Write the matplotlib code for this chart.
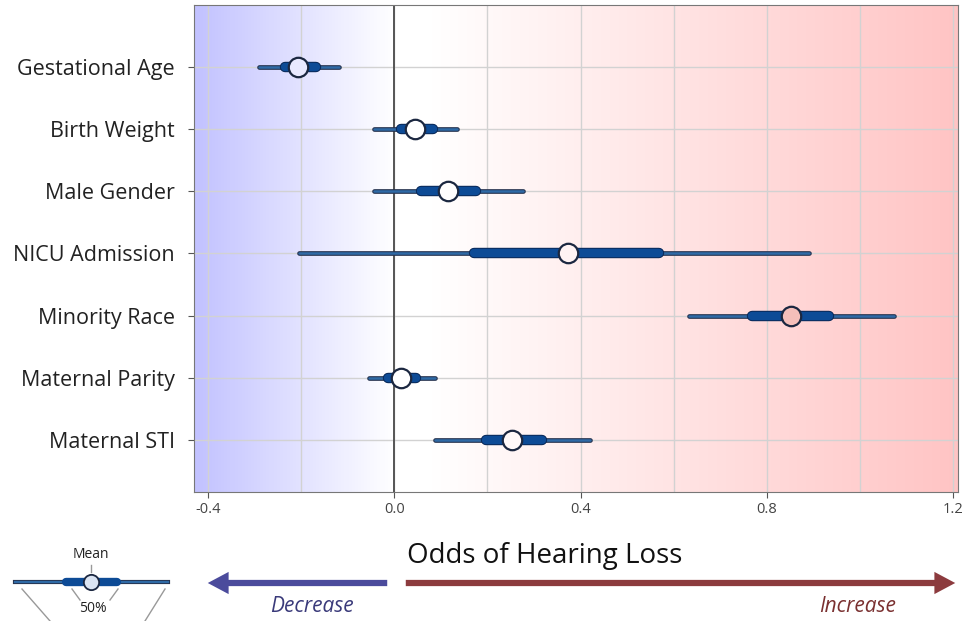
import numpy as np
import matplotlib
matplotlib.use("Agg")
import matplotlib.pyplot as plt
from matplotlib.colors import LinearSegmentedColormap

plt.rcParams['font.family'] = ['Open Sans', 'DejaVu Sans']

# data
factors = ['Gestational Age', 'Birth Weight', 'Male Gender', 'NICU Admission',
           'Minority Race', 'Maternal Parity', 'Maternal STI']
means = [-0.206, 0.045, 0.116, 0.372, 0.852, 0.015, 0.252]
lo95 = [-0.290, -0.043, -0.043, -0.204, 0.632, -0.054, 0.088]
hi95 = [-0.118, 0.135, 0.277, 0.890, 1.073, 0.088, 0.419]
lo50 = [-0.234, 0.015, 0.058, 0.172, 0.768, -0.013, 0.196]
hi50 = [-0.168, 0.082, 0.176, 0.568, 0.933, 0.047, 0.316]
xticks = [-0.4, 0.0, 0.4, 0.8, 1.2]
xticklabels = ['-0.4', '0.0', '0.4', '0.8', '1.2']

xmin, xmax = -0.43, 1.21
W, H = 963, 621
fig = plt.figure(figsize=(W / 100, H / 100), dpi=100)
ax = fig.add_axes([194 / W, 1 - 492 / H, (958 - 194) / W, (492 - 5) / H])

# background gradient
cmap = LinearSegmentedColormap.from_list(
    'bg', [(0.0, '#c2c2ff'), (0.26, '#ffffff'), (0.31, '#ffffff'), (1.0, '#ffc4c4')])
grad = np.linspace(0, 1, 512).reshape(1, -1)
ymin, ymax = len(factors) - 1 + 0.84, -1.0
ax.imshow(grad, cmap=cmap, aspect='auto', extent=[xmin, xmax, ymin, ymax], zorder=0)

for gx in np.arange(-0.4, 1.21, 0.2):
    ax.axvline(gx, color='#d2d2d2', lw=1, zorder=1)
ypos = np.arange(len(factors))
for gy in ypos:
    ax.axhline(gy, color='#d2d2d2', lw=1, zorder=1)
ax.axvline(0, color='#555555', lw=1.4, zorder=2)

for i in range(len(factors)):
    ax.plot([lo95[i], hi95[i]], [i, i], color='#26334f', lw=3.4, solid_capstyle='round', zorder=3)
    ax.plot([lo95[i], hi95[i]], [i, i], color='#2f6aa6', lw=1.8, solid_capstyle='round', zorder=4)
    ax.plot([lo50[i], hi50[i]], [i, i], color='#0a2a5a', lw=7.5, solid_capstyle='round', zorder=5)
    ax.plot([lo50[i], hi50[i]], [i, i], color='#0d4b96', lw=6, solid_capstyle='round', zorder=6)
    frac = (means[i] - xmin) / (xmax - xmin)
    r, g, b, _ = cmap(frac)
    face = (0.25 + 0.75 * r, 0.25 + 0.75 * g, 0.25 + 0.75 * b)
    if means[i] > 0.6:
        face = (0.96, 0.75, 0.73)
    ax.plot(means[i], i, 'o', ms=14, mfc=face, mec='#1b2740', mew=1.6, zorder=7)

ax.set_xlim(xmin, xmax)
ax.set_ylim(ymin, ymax)
ax.set_yticks(ypos)
ax.set_yticklabels(factors, fontsize=15.5, color='#222222')
ax.set_xticks(xticks)
ax.set_xticklabels(xticklabels, fontsize=10.5, color='#444444')
ax.tick_params(axis='both', length=4, color='#555555')
ax.tick_params(axis='y', pad=10)
for s in ax.spines.values():
    s.set_color('#777777')

# overlay in pixel coordinates for the arrows and the key
ov = fig.add_axes([0, 0, 1, 1], facecolor='none')
ov.set_xlim(0, W)
ov.set_ylim(H, 0)
ov.axis('off')

ov.text(545, 556, 'Odds of Hearing Loss', fontsize=20, ha='center', va='center', color='#111111')
ov.annotate('', xy=(205, 583), xytext=(390, 583),
            arrowprops=dict(arrowstyle='simple,head_length=1.5,head_width=1.6,tail_width=0.45',
                            color='#4b4b9c', lw=0))
ov.annotate('', xy=(958, 583), xytext=(403, 583),
            arrowprops=dict(arrowstyle='simple,head_length=1.5,head_width=1.6,tail_width=0.45',
                            color='#8c3b3e', lw=0))
ov.text(312, 607, 'Decrease', fontsize=15, style='italic', ha='center', va='center', color='#3a3a7a')
ov.text(858, 607, 'Increase', fontsize=15, style='italic', ha='center', va='center', color='#7a3030')

# key
ov.plot([15, 168], [582, 582], color='#26334f', lw=3, zorder=3)
ov.plot([15, 168], [582, 582], color='#2f6aa6', lw=1.6, zorder=4)
ov.plot([66, 117], [582, 582], color='#0d4b96', lw=6, solid_capstyle='round', zorder=5)
ov.plot(91, 582, 'o', ms=11, mfc='#dbe4f2', mec='#1b2740', mew=1.3, zorder=6)
ov.plot([91, 91], [565, 572], color='#999999', lw=1)
ov.text(91, 555, 'Mean', fontsize=10, ha='center', va='center', color='#222222')
ov.text(93, 609, '50%', fontsize=10, ha='center', va='center', color='#222222')
ov.plot([72, 80], [589, 600], color='#999999', lw=1)
ov.plot([118, 110], [589, 600], color='#999999', lw=1)
ov.plot([22, 50], [589, 621], color='#999999', lw=1)
ov.plot([165, 145], [589, 621], color='#999999', lw=1)

fig.savefig('out.png', dpi=100)
